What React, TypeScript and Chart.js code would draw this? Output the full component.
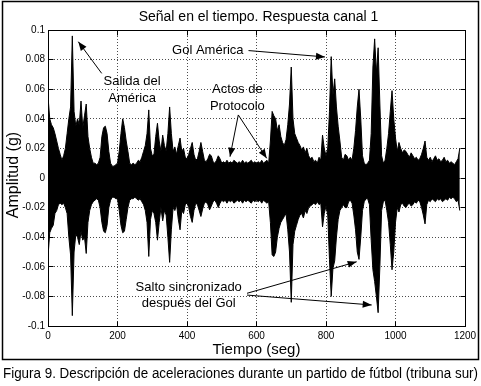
import React, { useEffect, useRef } from "react";
import { Chart, registerables } from "chart.js";

Chart.register(...registerables);

// ---- data ----
const TIME_STEP = 5; // seconds between envelope samples (t = 0 .. 1185 s)

// positive envelope of the acceleration record (g)
const UPPER = [
  0.055, 0.040, 0.036, 0.034, 0.030, 0.025, 0.020, 0.016, 0.012, 0.015,
  0.020, 0.030, 0.040, 0.048, 0.096, 0.045, 0.035, 0.040, 0.036, 0.052,
  0.034, 0.042, 0.050, 0.028, 0.020, 0.014, 0.010, 0.010, 0.009, 0.010,
  0.014, 0.028, 0.034, 0.035, 0.030, 0.018, 0.010, 0.008, 0.008, 0.009,
  0.010, 0.018, 0.030, 0.040, 0.034, 0.025, 0.018, 0.010, 0.009, 0.010,
  0.009, 0.010, 0.012, 0.011, 0.014, 0.018, 0.022, 0.030, 0.046, 0.020,
  0.015, 0.016, 0.028, 0.037, 0.025, 0.018, 0.029, 0.022, 0.018, 0.030,
  0.048, 0.030, 0.018, 0.021, 0.016, 0.022, 0.027, 0.018, 0.020, 0.014,
  0.013, 0.016, 0.020, 0.024, 0.016, 0.012, 0.013, 0.018, 0.024, 0.018,
  0.012, 0.011, 0.013, 0.016, 0.015, 0.011, 0.010, 0.012, 0.015, 0.013,
  0.010, 0.011, 0.010, 0.012, 0.010, 0.011, 0.010, 0.012, 0.011, 0.010,
  0.011, 0.010, 0.012, 0.010, 0.011, 0.010, 0.011, 0.012, 0.010, 0.011,
  0.010, 0.011, 0.010, 0.012, 0.010, 0.011, 0.012, 0.010, 0.025, 0.045,
  0.042, 0.040, 0.032, 0.036, 0.028, 0.024, 0.022, 0.026, 0.036, 0.050,
  0.075, 0.040, 0.030, 0.027, 0.024, 0.022, 0.019, 0.021, 0.017, 0.020,
  0.015, 0.013, 0.014, 0.011, 0.012, 0.010, 0.014, 0.012, 0.029, 0.020,
  0.015, 0.020, 0.045, 0.082, 0.056, 0.067, 0.048, 0.035, 0.025, 0.014,
  0.012, 0.016, 0.015, 0.012, 0.014, 0.012, 0.020, 0.032, 0.048, 0.060,
  0.040, 0.015, 0.010, 0.009, 0.010, 0.012, 0.030, 0.075, 0.094, 0.071,
  0.088, 0.050, 0.015, 0.010, 0.012, 0.020, 0.030, 0.045, 0.059, 0.040,
  0.027, 0.018, 0.024, 0.020, 0.017, 0.019, 0.018, 0.016, 0.014, 0.017,
  0.015, 0.013, 0.014, 0.012, 0.013, 0.016, 0.020, 0.025, 0.014, 0.012,
  0.014, 0.011, 0.013, 0.015, 0.012, 0.013, 0.011, 0.012, 0.014, 0.011,
  0.012, 0.010, 0.011, 0.010, 0.009, 0.011, 0.013, 0.020,
];

// negative envelope of the acceleration record (g)
const LOWER = [
  -0.053, -0.037, -0.034, -0.032, -0.024, -0.022, -0.018, -0.017, -0.018, -0.017,
  -0.020, -0.024, -0.040, -0.052, -0.093, -0.050, -0.038, -0.040, -0.045, -0.036,
  -0.042, -0.040, -0.051, -0.030, -0.022, -0.018, -0.016, -0.015, -0.014, -0.015,
  -0.020, -0.030, -0.036, -0.037, -0.032, -0.020, -0.015, -0.013, -0.013, -0.014,
  -0.014, -0.022, -0.032, -0.037, -0.036, -0.028, -0.020, -0.015, -0.014, -0.014,
  -0.013, -0.014, -0.015, -0.014, -0.016, -0.018, -0.022, -0.030, -0.053, -0.028,
  -0.022, -0.024, -0.030, -0.042, -0.030, -0.020, -0.029, -0.022, -0.025, -0.040,
  -0.057, -0.035, -0.020, -0.022, -0.018, -0.028, -0.035, -0.022, -0.024, -0.018,
  -0.017, -0.020, -0.026, -0.030, -0.022, -0.017, -0.018, -0.022, -0.026, -0.021,
  -0.017, -0.016, -0.018, -0.0215, -0.019, -0.016, -0.015, -0.017, -0.020, -0.017,
  -0.015, -0.016, -0.015, -0.017, -0.015, -0.016, -0.015, -0.017, -0.016, -0.015,
  -0.016, -0.015, -0.017, -0.015, -0.016, -0.015, -0.016, -0.017, -0.015, -0.016,
  -0.015, -0.016, -0.015, -0.017, -0.015, -0.016, -0.017, -0.016, -0.030, -0.052,
  -0.053, -0.050, -0.040, -0.034, -0.030, -0.028, -0.026, -0.024, -0.035, -0.050,
  -0.084, -0.045, -0.036, -0.032, -0.028, -0.025, -0.024, -0.027, -0.022, -0.024,
  -0.020, -0.019, -0.018, -0.017, -0.018, -0.016, -0.018, -0.017, -0.033, -0.024,
  -0.019, -0.025, -0.055, -0.080, -0.061, -0.056, -0.040, -0.028, -0.022, -0.020,
  -0.018, -0.020, -0.020, -0.016, -0.015, -0.017, -0.025, -0.035, -0.050, -0.055,
  -0.040, -0.022, -0.016, -0.014, -0.014, -0.018, -0.042, -0.062, -0.070, -0.080,
  -0.091, -0.060, -0.022, -0.016, -0.015, -0.022, -0.030, -0.045, -0.062, -0.050,
  -0.030, -0.020, -0.023, -0.018, -0.017, -0.019, -0.020, -0.018, -0.017, -0.019,
  -0.018, -0.016, -0.017, -0.015, -0.016, -0.020, -0.025, -0.031, -0.018, -0.015,
  -0.016, -0.014, -0.015, -0.016, -0.014, -0.015, -0.014, -0.016, -0.015, -0.014,
  -0.015, -0.013, -0.014, -0.013, -0.014, -0.016, -0.015, -0.022,
];

const X_TICKS = [0, 200, 400, 600, 800, 1000, 1200];
const X_TICK_LABELS = ["0", "200", "400", "600", "800", "1000", "1200"];
const Y_TICKS = [-0.1, -0.08, -0.06, -0.04, -0.02, 0, 0.02, 0.04, 0.06, 0.08, 0.1];
const Y_TICK_LABELS = ["-0.1", "-0.08", "-0.06", "-0.04", "-0.02", "0", "0.02", "0.04", "0.06", "0.08", "0.1"];

const TITLE = "Señal en el tiempo. Respuesta canal 1";
const X_TITLE = "Tiempo (seg)";
const Y_TITLE = "Amplitud (g)";
const CAPTION = "Figura 9. Descripción de aceleraciones durante un partido de fútbol (tribuna sur)";

// annotations, in data coordinates (seconds, g)
const NOTES = [
  { lines: ["Salida del", "América"], t: 242, v: [0.0652, 0.0537], align: "center" },
  { lines: ["Gol América"], t: 357, v: [0.0861], align: "left" },
  { lines: ["Actos de", "Protocolo"], t: 545, v: [0.0598, 0.0486], align: "center" },
  { lines: ["Salto sincronizado", "después del Gol"], t: 405, v: [-0.074, -0.0848], align: "center" },
];
const ARROWS = [
  { from: [154.5, 0.0707], to: [87.2, 0.0921] },
  { from: [577, 0.0861], to: [797, 0.0818] },
  { from: [547.6, 0.0426], to: [523.7, 0.0144] },
  { from: [547.6, 0.0426], to: [629.4, 0.0133] },
  { from: [572.7, -0.0779], to: [888.3, -0.0566] },
  { from: [572.7, -0.0791], to: [931.5, -0.0858] },
];

const FONT = '"Liberation Sans", Arial, Helvetica, sans-serif';

function drawArrow(ctx: CanvasRenderingContext2D, x1: number, y1: number, x2: number, y2: number) {
  ctx.beginPath();
  ctx.moveTo(x1, y1);
  ctx.lineTo(x2, y2);
  ctx.stroke();
  const ang = Math.atan2(y2 - y1, x2 - x1);
  const len = 9;
  const hw = 3.5;
  const bx = x2 - len * Math.cos(ang);
  const by = y2 - len * Math.sin(ang);
  ctx.beginPath();
  ctx.moveTo(x2, y2);
  ctx.lineTo(bx + hw * Math.sin(ang), by - hw * Math.cos(ang));
  ctx.lineTo(bx - hw * Math.sin(ang), by + hw * Math.cos(ang));
  ctx.closePath();
  ctx.fill();
}

const decor = {
  id: "decor",
  afterDatasetsDraw(chart: any) {
    const { ctx, chartArea: a, scales } = chart;
    const xs = scales.x;
    const ys = scales.y;
    const L = Math.round(a.left - 0.5) + 0.5;
    const R = Math.round(a.right - 0.5) + 0.5;
    const T = Math.round(a.top - 0.5) + 0.5;
    const B = Math.round(a.bottom - 0.5) + 0.5;
    ctx.save();
    ctx.strokeStyle = "#000";
    ctx.lineWidth = 1;
    ctx.setLineDash([]);
    ctx.strokeRect(L, T, R - L, B - T);
    const tl = 5;
    ctx.beginPath();
    X_TICKS.forEach((v) => {
      const px = Math.round(xs.getPixelForValue(v) - 0.5) + 0.5;
      ctx.moveTo(px, B); ctx.lineTo(px, B - tl);
      ctx.moveTo(px, T); ctx.lineTo(px, T + tl);
    });
    Y_TICKS.forEach((v) => {
      const py = Math.round(ys.getPixelForValue(v) - 0.5) + 0.5;
      ctx.moveTo(L, py); ctx.lineTo(L + tl, py);
      ctx.moveTo(R, py); ctx.lineTo(R - tl, py);
    });
    ctx.stroke();
    ctx.restore();
  },
  afterDraw(chart: any) {
    const { ctx, chartArea: a, scales } = chart;
    const xs = scales.x;
    const ys = scales.y;
    const W = chart.width;
    ctx.save();
    ctx.fillStyle = "#000";
    ctx.strokeStyle = "#000";
    // figure frame
    ctx.lineWidth = 1.5;
    ctx.strokeRect(2.5, 1.5, W - 5, 358);
    // title
    ctx.textBaseline = "middle";
    ctx.textAlign = "center";
    ctx.font = `14px ${FONT}`;
    ctx.fillText(TITLE, (a.left + a.right) / 2 + 2, 17);
    // axis titles
    ctx.font = `15px ${FONT}`;
    ctx.fillText(X_TITLE, (a.left + a.right) / 2, 350);
    ctx.save();
    ctx.translate(14, (a.top + a.bottom) / 2 - 3);
    ctx.rotate(-Math.PI / 2);
    ctx.font = `16px ${FONT}`;
    ctx.fillText(Y_TITLE, 0, 0);
    ctx.restore();
    // caption
    ctx.font = `14px ${FONT}`;
    ctx.fillText(CAPTION, W / 2, 374, W - 6);
    // annotations
    ctx.font = `13px ${FONT}`;
    NOTES.forEach((n) => {
      ctx.textAlign = n.align as CanvasTextAlign;
      n.lines.forEach((s, i) => {
        ctx.fillText(s, xs.getPixelForValue(n.t), ys.getPixelForValue(n.v[i]));
      });
    });
    ctx.lineWidth = 1;
    ARROWS.forEach((ar) => {
      drawArrow(
        ctx,
        xs.getPixelForValue(ar.from[0]), ys.getPixelForValue(ar.from[1]),
        xs.getPixelForValue(ar.to[0]), ys.getPixelForValue(ar.to[1])
      );
    });
    ctx.restore();
  },
};

export default function App() {
  const ref = useRef<HTMLCanvasElement>(null);
  useEffect(() => {
    const upperPts = UPPER.map((u, i) => ({ x: i * TIME_STEP, y: u }));
    const lowerPts = LOWER.map((l, i) => ({ x: i * TIME_STEP, y: l }));
    const gridCommon = {
      color: "rgba(0,0,0,0.7)",
      lineWidth: 1,
      drawTicks: false,
    };
    const chart = new Chart(ref.current as HTMLCanvasElement, {
      type: "line",
      data: {
        datasets: [
          {
            data: upperPts,
            borderColor: "#000",
            backgroundColor: "#000",
            borderWidth: 1,
            pointRadius: 0,
            tension: 0,
            fill: "+1",
          },
          {
            data: lowerPts,
            borderColor: "#000",
            backgroundColor: "#000",
            borderWidth: 1,
            pointRadius: 0,
            tension: 0,
            fill: false,
          },
        ],
      },
      options: {
        animation: false,
        responsive: false,
        devicePixelRatio: 1,
        events: [],
        layout: { padding: { left: 0, right: 16, top: 30, bottom: 0 } },
        plugins: {
          legend: { display: false },
          tooltip: { enabled: false },
          title: { display: false },
          filler: { propagate: false },
        },
        scales: {
          x: {
            type: "linear",
            min: 0,
            max: 1200,
            afterBuildTicks: (s: any) => {
              s.ticks = X_TICKS.map((v) => ({ value: v }));
            },
            afterFit: (s: any) => {
              s.height = 60;
            },
            ticks: {
              autoSkip: false,
              maxRotation: 0,
              padding: 4,
              color: "#000",
              font: { family: FONT, size: 10 },
              callback: (v: any) => X_TICK_LABELS[X_TICKS.indexOf(Number(v))],
            },
            grid: gridCommon,
            border: { display: false, dash: [1, 2] },
          },
          y: {
            type: "linear",
            min: -0.1,
            max: 0.1,
            afterBuildTicks: (s: any) => {
              s.ticks = Y_TICKS.map((v) => ({ value: v }));
            },
            afterFit: (s: any) => {
              s.width = 48;
            },
            ticks: {
              autoSkip: false,
              padding: 3,
              color: "#000",
              font: { family: FONT, size: 10 },
              callback: (v: any) => Y_TICK_LABELS[Y_TICKS.indexOf(Number(v))],
            },
            grid: gridCommon,
            border: { display: false, dash: [1, 2] },
          },
        },
      } as any,
      plugins: [decor],
    });
    return () => chart.destroy();
  }, []);
  return (
    <div style={{ position: "fixed", left: 0, top: 0, width: 481, height: 386, background: "#fff" }}>
      <canvas ref={ref} width={481} height={386} style={{ display: "block" }} />
    </div>
  );
}
